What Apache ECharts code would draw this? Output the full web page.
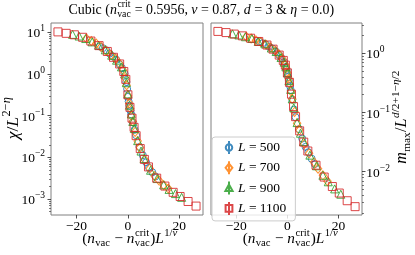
<!DOCTYPE html>
<html><head><meta charset="utf-8">
<script src="https://cdn.jsdelivr.net/npm/echarts@6.0.0/dist/echarts.min.js"></script>
<style>html,body{margin:0;padding:0;background:#fff}#c{width:415px;height:255px}</style>
</head><body><div id="c"></div>
<script>
// ---- data (x = (n_vac - n_crit) L^{1/nu}; y values given as log10) ----
const seriesNames = ['L = 500', 'L = 700', 'L = 900', 'L = 1100'];

const xL500  = [-11.0, -9.7, -8.4, -7.1, -5.8, -4.5, -3.2, -2.3, -1.3, -0.6, -0.3, 0.0, 0.3, 0.6, 1.0, 1.3, 1.9, 2.6, 3.2, 4.5, 5.8, 7.1, 8.2, 9.5, 10.7];
const log10ChiL500 = [0.66, 0.62, 0.57, 0.49, 0.42, 0.34, 0.23, 0.14, 0.01, -0.19, -0.36, -0.55, -0.66, -0.76, -0.88, -0.97, -1.16, -1.34, -1.47, -1.75, -1.95, -2.12, -2.25, -2.36, -2.46];
const log10ML500   = [0.20, 0.17, 0.15, 0.11, 0.08, 0.03, -0.03, -0.08, -0.15, -0.23, -0.28, -0.34, -0.40, -0.46, -0.55, -0.62, -0.78, -0.95, -1.08, -1.28, -1.44, -1.58, -1.67, -1.78, -1.87];

const xL700  = [-16.1, -14.2, -12.3, -10.4, -8.5, -6.6, -4.7, -3.3, -1.9, -0.9, -0.5, 0.0, 0.5, 0.9, 1.4, 1.9, 2.8, 3.8, 4.7, 6.6, 8.5, 10.4, 12.0, 13.9, 15.7];
const log10ChiL700 = [0.85, 0.79, 0.73, 0.65, 0.56, 0.46, 0.36, 0.25, 0.09, -0.11, -0.27, -0.52, -0.71, -0.83, -1.01, -1.14, -1.39, -1.61, -1.77, -2.06, -2.27, -2.45, -2.55, -2.67, -2.75];
const log10ML700   = [0.28, 0.25, 0.22, 0.19, 0.15, 0.10, 0.04, -0.02, -0.10, -0.19, -0.25, -0.33, -0.43, -0.52, -0.64, -0.77, -0.99, -1.18, -1.30, -1.53, -1.69, -1.84, -1.95, -2.06, -2.16];

const xL900  = [-21.5, -19.0, -16.4, -13.9, -11.4, -8.8, -6.3, -4.4, -2.5, -1.3, -0.6, 0.0, 0.6, 1.3, 1.9, 2.5, 3.8, 5.1, 6.3, 8.8, 11.4, 13.9, 16.0, 18.5, 20.9];
const log10ChiL900 = [0.95, 0.91, 0.85, 0.77, 0.69, 0.58, 0.45, 0.33, 0.17, 0.00, -0.21, -0.48, -0.75, -0.96, -1.14, -1.31, -1.60, -1.85, -2.03, -2.31, -2.51, -2.66, -2.77, -2.87, -2.96];
const log10ML900   = [0.33, 0.31, 0.28, 0.25, 0.20, 0.16, 0.09, 0.03, -0.07, -0.15, -0.23, -0.33, -0.46, -0.61, -0.77, -0.92, -1.17, -1.35, -1.49, -1.72, -1.90, -2.06, -2.17, -2.29, -2.38];

const xL1100 = [-27.2, -24.0, -20.8, -17.6, -14.4, -11.2, -8.0, -5.6, -3.2, -1.6, -0.8, 0.0, 0.8, 1.6, 2.4, 3.2, 4.8, 6.4, 8.0, 11.2, 14.4, 17.6, 20.3, 23.4, 26.5];
const log10ChiL1100 = [1.01, 0.975, 0.94, 0.88, 0.79, 0.68, 0.54, 0.40, 0.24, 0.06, -0.13, -0.50, -0.80, -1.06, -1.28, -1.48, -1.79, -2.05, -2.23, -2.50, -2.69, -2.84, -2.94, -3.06, -3.17];
const log10ML1100   = [0.37, 0.35, 0.325, 0.295, 0.255, 0.20, 0.14, 0.07, -0.03, -0.12, -0.20, -0.33, -0.49, -0.69, -0.90, -1.07, -1.31, -1.50, -1.65, -1.89, -2.09, -2.25, -2.36, -2.49, -2.59];

const xTicks = [-20, 0, 20];
const chiDecades = [-3, -2, -1, 0, 1];   // 10^-3 ... 10^1
const mDecades = [-2, -1, 0];            // 10^-2 ... 10^0

// ---- style ----
const SERIF = '"Liberation Serif","DejaVu Serif",serif';
const FS = 13.5;
const COLORS = ['#1f77b4', '#ff7f0e', '#2ca02c', '#d62728'];
const symbols = ['circle', 'diamond', 'triangle', 'rect'];
const symbolSizes = [7, [7.5, 9], 8, 8];
const icons = [
  'path://M0,0M8,13M0.75,6.5a3.25,3.25 0 1,0 6.5,0a3.25,3.25 0 1,0 -6.5,0M4,0L4,13',
  'path://M0,0M8,13M4,2.2L7.4,6.5L4,10.8L0.6,6.5ZM4,0L4,13',
  'path://M0,0M8,13M4,2.8L7.6,9.3L0.4,9.3ZM4,0L4,13',
  'path://M0,0M8,13M0.6,3.1L7.4,3.1L7.4,9.9L0.6,9.9ZM4,0L4,13'
];

const xs = [xL500, xL700, xL900, xL1100];
const chis = [log10ChiL500, log10ChiL700, log10ChiL900, log10ChiL1100];
const ms = [log10ML500, log10ML700, log10ML900, log10ML1100];

function minorTicks(lo, hi) {
  const out = [];
  for (let d = Math.floor(lo) - 1; d <= Math.ceil(hi); d++)
    for (let k = 2; k <= 9; k++) { const v = d + Math.log10(k); if (v >= lo && v <= hi) out.push(v); }
  return out;
}

const measCtx = document.createElement('canvas').getContext('2d');
function tw(t, size, it) { measCtx.font = (it ? 'italic ' : '') + size + 'px ' + SERIF; return measCtx.measureText(t).width; }
function pieces(p) { return typeof p === 'string' ? [{ t: p }] : p; }
function layoutMath(tokens, size) {
  const kids = []; let x = 0; const ss = size * 0.7;
  const put = (t, it, fs, px, py) => {
    kids.push({ type: 'text', x: px, y: py, silent: true,
      style: { text: t, fontSize: fs, fontFamily: SERIF, fontStyle: it ? 'italic' : 'normal', fill: '#000', align: 'left', verticalAlign: 'middle' } });
    return tw(t, fs, it);
  };
  tokens.forEach(tk => {
    if (tk.t !== undefined) { x += put(tk.t, tk.i, size, x, 0); }
    else {
      let w = 0;
      if (tk.sup) { let xx = x + 0.5; pieces(tk.sup).forEach(p => { xx += put(p.t, p.i, ss, xx, -size * 0.38); }); w = Math.max(w, xx - x); }
      if (tk.sub) { let xx = x + 0.3; pieces(tk.sub).forEach(p => { xx += put(p.t, p.i, ss, xx, size * 0.3); }); w = Math.max(w, xx - x); }
      x += w + 0.5;
    }
  });
  return { kids: kids, width: x };
}
function mathText(tokens, size, cx, cy, rot, targetW) {
  let L = layoutMath(tokens, size);
  if (targetW) { L = layoutMath(tokens, size * targetW / L.width); }
  L.kids.forEach(k => { k.x -= L.width / 2; });
  return { type: 'group', x: cx, y: cy, rotation: rot || 0, silent: true, children: L.kids };
}

const titleTokens = [{ t: 'Cubic (' }, { t: 'n', i: 1 }, { sup: 'crit', sub: 'vac' }, { t: ' = 0.5956, ' }, { t: 'ν', i: 1 },
  { t: ' = 0.87, ' }, { t: 'd', i: 1 }, { t: ' = 3 & ' }, { t: 'η', i: 1 }, { t: ' = 0.0)' }];
const xLabelTokens = [{ t: '(' }, { t: 'n', i: 1 }, { sub: 'vac' }, { t: ' − ' }, { t: 'n', i: 1 }, { sup: 'crit', sub: 'vac' },
  { t: ')' }, { t: 'L', i: 1 }, { sup: [{ t: '1/' }, { t: 'ν', i: 1 }] }];
const chiLabelTokens = [{ t: 'χ', i: 1 }, { t: '/' }, { t: 'L', i: 1 }, { sup: [{ t: '2−' }, { t: 'η', i: 1 }] }];
const mLabelTokens = [{ t: 'm', i: 1 }, { sub: 'max' }, { t: '/' }, { t: 'L', i: 1 },
  { sup: [{ t: 'd', i: 1 }, { t: '/2+1−' }, { t: 'η', i: 1 }, { t: '/2' }] }];

const fmtX = v => (v < 0 ? '−' : '') + Math.abs(v);
const fmtY = v => { const n = Math.round(v); return '{h| }{b|10}{s|' + (n < 0 ? '−' + (-n) : '' + n) + '}'; };
const yRich = {
  h: { fontSize: 1, lineHeight: 17 },
  b: { fontSize: FS, fontFamily: SERIF, color: '#000', lineHeight: 15, verticalAlign: 'bottom' },
  s: { fontSize: 9.5, fontFamily: SERIF, color: '#000', lineHeight: 11, verticalAlign: 'top' }
};
const TICK = '#222';

function xAxisCfg(g, min, max) {
  return { gridIndex: g, type: 'value', min: min, max: max, position: 'bottom',
    axisLine: { show: false, onZero: false }, splitLine: { show: false },
    axisTick: { show: true, customValues: xTicks, length: 3.5, lineStyle: { color: TICK, width: 0.8 } },
    axisLabel: { customValues: xTicks, formatter: fmtX, fontSize: FS, fontFamily: SERIF, color: '#000', margin: 4 } };
}
function yMajor(g, min, max, pos, decades, margin) {
  return { gridIndex: g, type: 'value', min: min, max: max, position: pos,
    axisLine: { show: false, onZero: false }, splitLine: { show: false },
    axisTick: { show: true, customValues: decades, length: 3.5, lineStyle: { color: TICK, width: 0.8 } },
    axisLabel: { customValues: decades, formatter: fmtY, rich: yRich, margin: margin } };
}
function yMinor(g, min, max, pos) {
  return { gridIndex: g, type: 'value', min: min, max: max, position: pos,
    axisLine: { show: false, onZero: false }, splitLine: { show: false }, axisLabel: { show: false },
    axisTick: { show: true, customValues: minorTicks(min, max), length: 2, lineStyle: { color: TICK, width: 0.6 } } };
}

const CHI_MIN = -3.384, CHI_MAX = 1.223, M_MIN = -2.731, M_MAX = 0.512;

const series = [];
for (let i = 0; i < 4; i++) {
  const common = { type: 'scatter', name: seriesNames[i], symbol: symbols[i], symbolSize: symbolSizes[i],
    itemStyle: { color: 'rgba(0,0,0,0)', borderColor: COLORS[i], borderWidth: 1, opacity: 0.85 },
    z: 2 + i, silent: true, animation: false };
  series.push(Object.assign({}, common, { xAxisIndex: 0, yAxisIndex: 0, data: xs[i].map((x, j) => [x, chis[i][j]]) }));
  series.push(Object.assign({}, common, { xAxisIndex: 1, yAxisIndex: 2, data: xs[i].map((x, j) => [x, ms[i][j]]) }));
}

const chart = echarts.init(document.getElementById('c'), null, { renderer: 'canvas' });
chart.setOption({
  animation: false,
  backgroundColor: '#fff',
  grid: [
    { left: 51, top: 23, width: 152, height: 192, show: true, borderColor: '#808080', borderWidth: 1, backgroundColor: 'rgba(0,0,0,0)', containLabel: false, outerBoundsMode: 'none' },
    { left: 211, top: 23, width: 151, height: 192, show: true, borderColor: '#808080', borderWidth: 1, backgroundColor: 'rgba(0,0,0,0)', containLabel: false, outerBoundsMode: 'none' }
  ],
  xAxis: [xAxisCfg(0, -29.9, 29.2), xAxisCfg(1, -29.9, 29.2)],
  yAxis: [
    yMajor(0, CHI_MIN, CHI_MAX, 'left', chiDecades, 6), yMinor(0, CHI_MIN, CHI_MAX, 'left'),
    yMajor(1, M_MIN, M_MAX, 'right', mDecades, 4), yMinor(1, M_MIN, M_MAX, 'right')
  ],
  legend: {
    orient: 'vertical', left: 212, top: 137,
    data: seriesNames.map((n, i) => ({ name: n, icon: icons[i] })),
    itemWidth: 8, itemHeight: 13, itemGap: 5.3,
    padding: [3, 9, 5, 12],
    backgroundColor: 'rgba(255,255,255,0.8)', borderColor: '#cccccc', borderWidth: 1, borderRadius: 3,
    selectedMode: false,
    formatter: n => '{i|L}{r|' + n.slice(1) + '}',
    textStyle: { fontFamily: SERIF, fontSize: FS, color: '#000',
      rich: { i: { fontStyle: 'italic', fontFamily: SERIF, fontSize: FS, lineHeight: 13 },
              r: { fontFamily: SERIF, fontSize: FS, lineHeight: 13 } } }
  },
  graphic: [
    mathText(titleTokens, FS, 201.3, 10, 0, 266),
    mathText(xLabelTokens, FS, 130, 239, 0, 96),
    mathText(xLabelTokens, FS, 290.5, 239, 0, 96),
    mathText(chiLabelTokens, FS, 13, 118, Math.PI / 2, 43),
    mathText(mLabelTokens, FS, 402, 117, Math.PI / 2, 94)
  ],
  series: series
});
</script></body></html>
